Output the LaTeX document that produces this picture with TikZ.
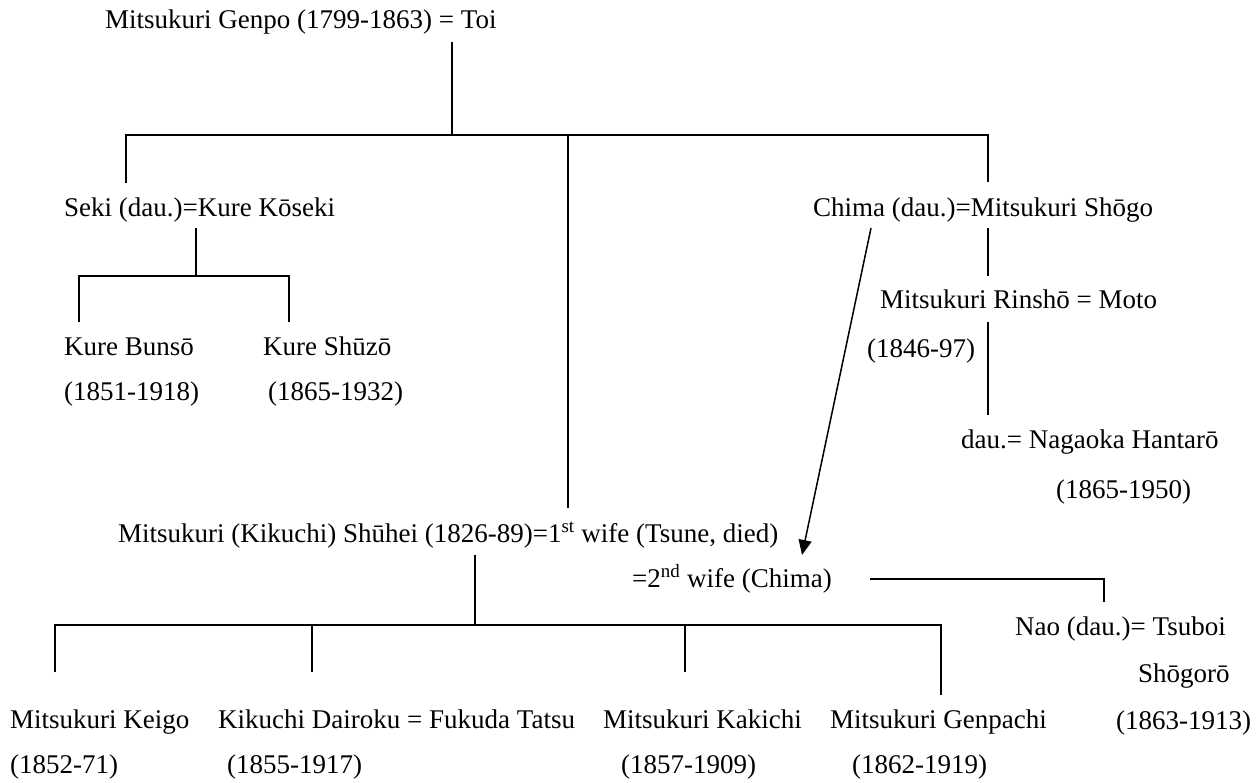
\documentclass[tikz,border=0pt]{standalone}
\usepackage{fontspec}
\setmainfont{Liberation Serif}
\usetikzlibrary{arrows.meta}
\begin{document}
\begin{tikzpicture}[x=1pt,y=-1pt,
  lbl/.style={anchor=base west,inner sep=0pt,font=\fontsize{27}{31}\selectfont},
  ln/.style={line width=1.8pt},
  arr/.style={line width=1.5pt,-{Triangle[length=15pt,width=13pt]}}]
\path[use as bounding box,fill=white] (0,0) rectangle (1260,782);
% texts
\node[lbl] (genpo) at (105,28) {Mitsukuri Genpo (1799-1863) = Toi};
\node[lbl] (seki) at (64,216) {Seki (dau.)=Kure Kōseki};
\node[lbl] (bunso) at (64,355) {Kure Bunsō};
\node[lbl] (bunsoy) at (64,400) {(1851-1918)};
\node[lbl] (shuzo) at (263,355) {Kure Shūzō};
\node[lbl] (shuzoy) at (268,400) {(1865-1932)};
\node[lbl] (chima) at (813,216) {Chima (dau.)=Mitsukuri Shōgo};
\node[lbl] (rinsho) at (880,308) {Mitsukuri Rinshō = Moto};
\node[lbl] (rinshoy) at (867,357) {(1846-97)};
\node[lbl] (nagaoka) at (961,448) {dau.= Nagaoka Hantarō};
\node[lbl] (nagaokay) at (1056,498) {(1865-1950)};
\node[lbl] (shuhei) at (118,542) {Mitsukuri (Kikuchi) Shūhei (1826-89)=1\textsuperscript{st} wife (Tsune, died)};
\node[lbl] (wife2) at (632,587) {=2\textsuperscript{nd} wife (Chima)};
\node[lbl] (nao) at (1015,635) {Nao (dau.)= Tsuboi};
\node[lbl] (naob) at (1138,682) {Shōgorō};
\node[lbl] (naoy) at (1116,729) {(1863-1913)};
\node[lbl] (keigo) at (10,728) {Mitsukuri Keigo};
\node[lbl] (keigoy) at (10,773) {(1852-71)};
\node[lbl] (dairoku) at (218,728) {Kikuchi Dairoku = Fukuda Tatsu};
\node[lbl] (dairokuy) at (227,773) {(1855-1917)};
\node[lbl] (kakichi) at (603,728) {Mitsukuri Kakichi};
\node[lbl] (kakichiy) at (621,773) {(1857-1909)};
\node[lbl] (genpachi) at (830,728) {Mitsukuri Genpachi};
\node[lbl] (genpachiy) at (852,773) {(1862-1919)};
% junction coordinates
\coordinate (g0) at (452,42);
\coordinate (g1) at (452,135);
\coordinate (gL) at (126,135);
\coordinate (gLd) at (126,183);
\coordinate (gM) at (568,135);
\coordinate (gMd) at (568,508);
\coordinate (gR) at (988,135);
\coordinate (gRd) at (988,182);
\coordinate (s0) at (196,228);
\coordinate (s1) at (196,276);
\coordinate (sL) at (79,276);
\coordinate (sLd) at (79,322);
\coordinate (sR) at (289,276);
\coordinate (sRd) at (289,322);
\coordinate (c0) at (988,228);
\coordinate (c1) at (988,276);
\coordinate (r0) at (988,322);
\coordinate (r1) at (988,415);
\coordinate (a0) at (871,228);
\coordinate (a1) at (802,555);
\coordinate (w0) at (870,579);
\coordinate (w1) at (1104,579);
\coordinate (w2) at (1104,602);
\coordinate (h0) at (475,555);
\coordinate (h1) at (475,625);
\coordinate (hA) at (55,625);
\coordinate (hAd) at (55,672);
\coordinate (hB) at (312,625);
\coordinate (hBd) at (312,672);
\coordinate (hC) at (685,625);
\coordinate (hCd) at (685,672);
\coordinate (hD) at (941,625);
\coordinate (hDd) at (941,695);
% connectors
\draw[ln] (g0) -- (g1);
\draw[ln] (gLd) -- (gL) -- (gR) -- (gRd);
\draw[ln] (gM) -- (gMd);
\draw[ln] (s0) -- (s1);
\draw[ln] (sLd) -- (sL) -- (sR) -- (sRd);
\draw[ln] (c0) -- (c1);
\draw[ln] (r0) -- (r1);
\draw[arr] (a0) -- (a1);
\draw[ln] (w0) -- (w1) -- (w2);
\draw[ln] (h0) -- (h1);
\draw[ln] (hAd) -- (hA) -- (hD) -- (hDd);
\draw[ln] (hB) -- (hBd);
\draw[ln] (hC) -- (hCd);
\end{tikzpicture}
\end{document}
